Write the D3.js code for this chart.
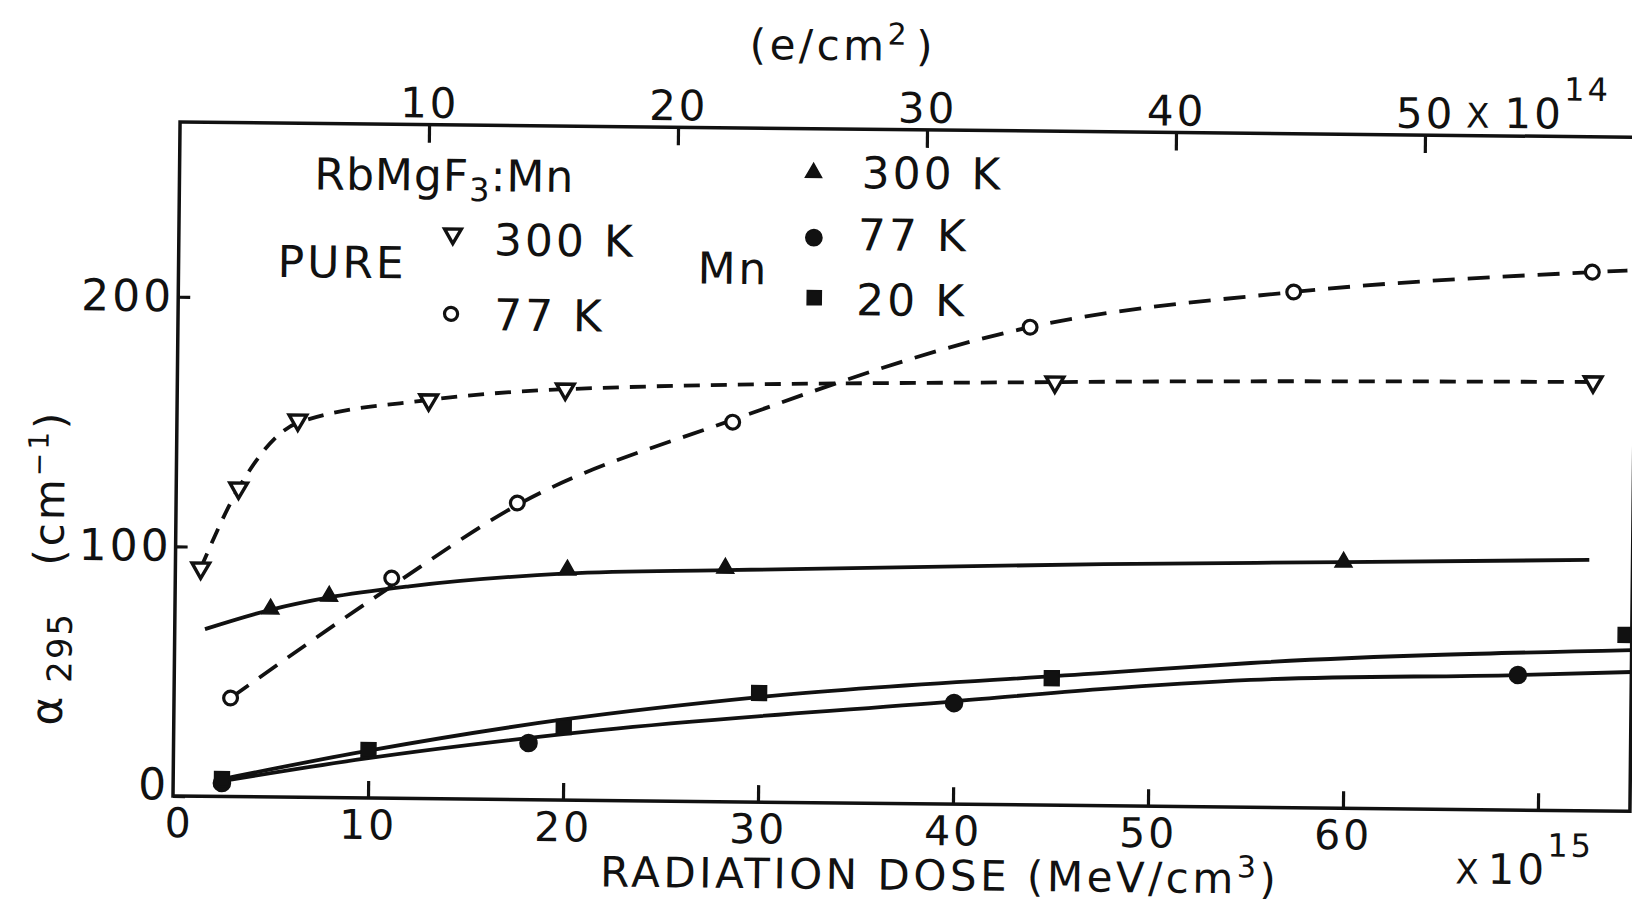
<!DOCTYPE html>
<html>
<head>
<meta charset="utf-8">
<script src="https://cdn.jsdelivr.net/npm/d3@7"></script>
<style>
  html, body { margin: 0; padding: 0; background: #fff; }
  svg { display: block; }
  text { font-family: "DejaVu Sans", "Liberation Sans", sans-serif; fill: #111; }
</style>
</head>
<body>
<svg id="chart" width="1632" height="902"></svg>
<script>
// ---- data -------------------------------------------------------------
// bottom axis: radiation dose, x10^15 MeV/cm^3
const doseTicks = [0, 10, 20, 30, 40, 50, 60, 70];
const doseLabels = ["0", "10", "20", "30", "40", "50", "60", ""];   // the last slot carries the x10^15 factor
// top axis: electron fluence, x10^14 e/cm^2
const fluenceTicks = [10, 20, 30, 40, 50];
// left axis: absorption coefficient at 295 nm, cm^-1
const alphaTicks = [0, 100, 200];

// pure RbMgF3, measured points [dose, alpha]
const pure300 = [[1.3, 91.4], [3.2, 123.6], [6.2, 151.1], [12.9, 159.7], [19.9, 164.6], [45.0, 169.5], [72.6, 171.8]];
const pure77  = [[2.9, 39.5], [11.1, 88.2], [17.5, 118.8], [28.5, 152.1], [43.7, 191.4], [57.2, 206.6], [72.5, 215.8]];
// dashed guide curves through the pure-crystal points
const pure300Curve = [[1.3, 91.4], [3.2, 123.6], [6.2, 150.0], [12.9, 159.7], [19.9, 164.6], [45.0, 169.5], [72.6, 171.8]];
const pure77Curve  = [[2.9, 39.5], [11.1, 85.0], [17.5, 118.0], [28.5, 153.0], [43.7, 191.4], [57.2, 206.6], [72.5, 215.8], [74.3, 216.6]];

// Mn-doped RbMgF3, measured points
const mn300 = [[4.9, 75.3], [7.9, 80.7], [20.1, 92.2], [28.2, 93.6], [59.9, 98.6]];
const mn77  = [[2.5, 5.4], [18.2, 22.7], [40.0, 40.5], [68.9, 54.1]];
const mn20  = [[2.5, 7.0], [10.0, 19.2], [20.0, 29.3], [30.0, 43.7], [45.0, 50.9], [74.4, 70.6]];
// solid fitted curves for the doped crystal
const mn300Curve = [[1.55, 67.0], [4.9, 75.0], [7.9, 80.2], [12.0, 85.0], [20.1, 90.8], [28.2, 92.8], [47.6, 96.8], [59.9, 98.6], [72.5, 100.5]];
const mn77Curve  = [[2.5, 6.2], [10.0, 16.0], [21.9, 28.2], [40.0, 41.2], [47.5, 46.7], [55.2, 51.0], [68.9, 54.1], [74.8, 55.8]];
const mn20Curve  = [[2.5, 7.0], [10.0, 19.0], [20.0, 32.3], [30.0, 42.1], [47.5, 53.1], [55.2, 57.8], [74.8, 64.6]];

// ---- layout -----------------------------------------------------------
const X0 = 173, Y0 = 796, TOP = 122, RIGHT = 1630;
const TILT = 0.6;            // the whole sheet sits slightly turned
const INK = "#111";

const x    = d3.scaleLinear().domain([0, 75]).range([X0, X0 + 75 * 19.5]);
const xTop = d3.scaleLinear().domain([0, 58.5]).range([X0, X0 + 58.5 * 24.9]);
const y    = d3.scaleLinear().domain([0, 270]).range([Y0, TOP]);

const svg = d3.select("#chart");
const root = svg.append("g").attr("transform", `rotate(${TILT} ${X0} ${Y0})`);

svg.append("defs").append("clipPath").attr("id", "plot-clip")
  .append("rect").attr("x", X0).attr("y", TOP).attr("width", RIGHT - X0).attr("height", Y0 - TOP);

// ---- frame ------------------------------------------------------------
root.append("path")
  .attr("d", `M${X0},${TOP}H${RIGHT}V${Y0}H${X0}Z`)
  .attr("fill", "none").attr("stroke", INK).attr("stroke-width", 3.5);

function styleAxis(g, size, spacing) {
  g.select(".domain").remove();
  g.selectAll(".tick line").attr("stroke", INK).attr("stroke-width", 3.2);
  g.selectAll(".tick text")
    .attr("fill", INK)
    .style("font-family", '"DejaVu Sans", sans-serif')
    .style("font-size", size + "px")
    .style("letter-spacing", spacing + "px");
}

// bottom axis (inward ticks)
const gBottom = root.append("g").attr("transform", `translate(0,${Y0})`)
  .call(d3.axisBottom(x).tickValues(doseTicks).tickSizeInner(-17).tickSizeOuter(0).tickPadding(12)
    .tickFormat((d, i) => doseLabels[i]));
styleAxis(gBottom, 41, 3);
gBottom.selectAll(".tick").filter(d => d === 0).select("line").remove();
gBottom.selectAll(".tick").filter(d => d === 0).select("text").attr("dx", 6);

// top axis (inward ticks)
const gTop = root.append("g").attr("transform", `translate(0,${TOP})`)
  .call(d3.axisTop(xTop).tickValues(fluenceTicks).tickSizeInner(-18).tickSizeOuter(0).tickPadding(7).tickFormat(d3.format("d")));
styleAxis(gTop, 42, 3);

// left axis (inward ticks)
const gLeft = root.append("g").attr("transform", `translate(${X0},0)`)
  .call(d3.axisLeft(y).tickValues(alphaTicks).tickSizeInner(-12).tickSizeOuter(0).tickPadding(4).tickFormat(d3.format("d")));
styleAxis(gLeft, 44, 3);
gLeft.selectAll(".tick").filter(d => d === 0).select("text").attr("y", -11);

// ---- axis titles --------------------------------------------------------
const tBottom = root.append("text").attr("x", 601).attr("y", 882)
  .style("font-size", "42px").style("letter-spacing", "3.5px");
tBottom.append("tspan").text("RADIATION DOSE (MeV/cm");
tBottom.append("tspan").attr("dy", -16).style("font-size", "30px").text("3");
tBottom.append("tspan").attr("dy", 16).text(")");

const tExpB = root.append("text").attr("x", 1456).attr("y", 870)
  .style("font-size", "42px").style("letter-spacing", "3px");
tExpB.append("tspan").style("font-size", "34px").text("X");
tExpB.append("tspan").attr("dx", 6).text("10");
tExpB.append("tspan").attr("dy", -28).style("font-size", "32px").text("15");

const tTop = root.append("text").attr("x", 835).attr("y", 53).attr("text-anchor", "middle")
  .style("font-size", "42px").style("letter-spacing", "3.5px");
tTop.append("tspan").text("(e/cm");
tTop.append("tspan").attr("dy", -16).style("font-size", "30px").text("2");
tTop.append("tspan").attr("dy", 16).attr("dx", 6).text(")");

const tExpT = root.append("text").attr("x", 1459).attr("y", 114)
  .style("font-size", "42px").style("letter-spacing", "3px");
tExpT.append("tspan").style("font-size", "34px").text("X");
tExpT.append("tspan").attr("dx", 12).text("10");
tExpT.append("tspan").attr("dy", -28).style("font-size", "32px").text("14");

// vertical title, reading upward
const gY = root.append("g").attr("transform", "rotate(-90)");
gY.append("text").attr("x", -727).attr("y", 61).style("font-size", "44px").text("α");
gY.append("text").attr("x", -684).attr("y", 70).style("font-size", "34px").style("letter-spacing", "2px").text("295");
const tUnit = gY.append("text").attr("x", -567).attr("y", 61).style("font-size", "42px").style("letter-spacing", "3px");
tUnit.append("tspan").text("(cm");
tUnit.append("tspan").attr("dy", -16).style("font-size", "28px").text("−1");
tUnit.append("tspan").attr("dy", 16).text(")");

// ---- curves ---------------------------------------------------------------
const line = d3.line().x(d => x(d[0])).y(d => y(d[1])).curve(d3.curveMonotoneX);
const curves = root.append("g").attr("clip-path", "url(#plot-clip)");

function drawCurve(pts, dash) {
  curves.append("path").attr("d", line(pts))
    .attr("fill", "none").attr("stroke", INK).attr("stroke-width", 3.8)
    .attr("stroke-linecap", "butt")
    .attr("stroke-dasharray", dash || null);
}
drawCurve(pure300Curve, "16,11");
drawCurve(pure77Curve, "22,13");
drawCurve(mn300Curve);
drawCurve(mn77Curve);
drawCurve(mn20Curve);

// ---- markers ----------------------------------------------------------------
const sym = {
  openDown:  { type: d3.symbolTriangle, size: 135, rot: 180, fill: "#fff", sw: 3.4 },
  openCirc:  { type: d3.symbolCircle,   size: 150, rot: 0,   fill: "#fff", sw: 3.2 },
  fillTri:   { type: d3.symbolTriangle, size: 125, rot: 0,   fill: INK,    sw: 1.5 },
  fillCirc:  { type: d3.symbolCircle,   size: 230, rot: 0,   fill: INK,    sw: 1.5 },
  fillSq:    { type: d3.symbolSquare,   size: 220, rot: 0,   fill: INK,    sw: 1.5 }
};
const marks = root.append("g");
function drawMarks(pts, s) {
  marks.selectAll(null).data(pts).enter().append("path")
    .attr("d", d3.symbol().type(s.type).size(s.size)())
    .attr("transform", d => `translate(${x(d[0])},${y(d[1])}) rotate(${s.rot})`)
    .attr("fill", s.fill).attr("stroke", INK).attr("stroke-width", s.sw);
}
drawMarks(pure300, sym.openDown);
drawMarks(pure77, sym.openCirc);
drawMarks(mn300, sym.fillTri);
drawMarks(mn77, sym.fillCirc);
drawMarks(mn20, sym.fillSq);

// ---- legend -------------------------------------------------------------------
const leg = root.append("g");
const legendSymbols = [
  { s: sym.openDown, x: 447, y: 231 },
  { s: sym.openCirc, x: 446, y: 311 },
  { s: sym.fillTri,  x: 807, y: 166 },
  { s: sym.fillCirc, x: 808, y: 231 },
  { s: sym.fillSq,   x: 809, y: 291 }
];
legendSymbols.forEach(d => {
  leg.append("path")
    .attr("d", d3.symbol().type(d.s.type).size(d.s.size * 0.9)())
    .attr("transform", `translate(${d.x},${d.y}) rotate(${d.s.rot})`)
    .attr("fill", d.s.fill).attr("stroke", INK).attr("stroke-width", d.s.sw);
});
const legendLabels = [
  { t: "PURE",  x: 272, y: 276 },
  { t: "Mn",    x: 692, y: 278 },
  { t: "300 K", x: 488, y: 252 },
  { t: "77 K",  x: 489, y: 327 },
  { t: "300 K", x: 855, y: 181 },
  { t: "77 K",  x: 852, y: 243 },
  { t: "20 K",  x: 851, y: 308 }
];
leg.selectAll(null).data(legendLabels).enter().append("text")
  .attr("x", d => d.x).attr("y", d => d.y)
  .style("font-size", "44px").style("letter-spacing", "3px")
  .text(d => d.t);

const tSample = leg.append("text").attr("x", 308).attr("y", 188)
  .style("font-size", "44px").style("letter-spacing", "1px");
tSample.append("tspan").text("RbMgF");
tSample.append("tspan").attr("dy", 10).style("font-size", "32px").text("3");
tSample.append("tspan").attr("dy", -10).text(":Mn");
</script>
</body>
</html>
